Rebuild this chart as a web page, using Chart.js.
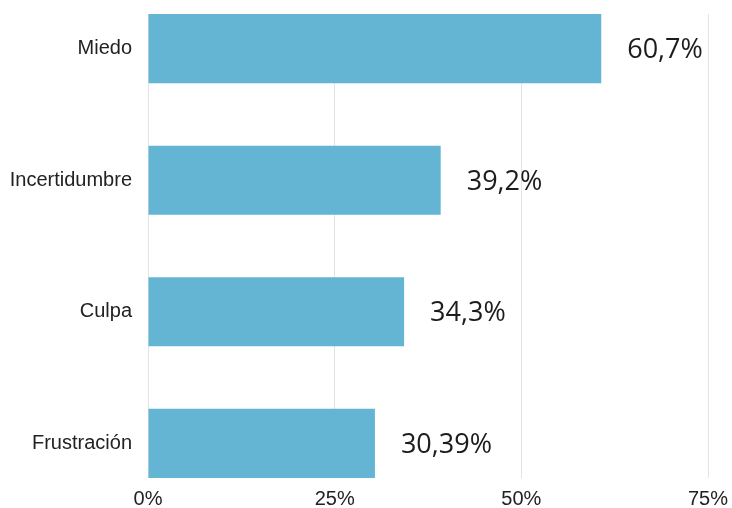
<!DOCTYPE html>
<html>
<head>
<meta charset="utf-8">
<script src="https://cdn.jsdelivr.net/npm/chart.js@4/dist/chart.umd.min.js"></script>
<style>
  html, body { margin: 0; padding: 0; background: #ffffff; }
  #wrap { width: 732px; height: 508px; }
</style>
</head>
<body>
<div id="wrap"><canvas id="c" width="732" height="508"></canvas></div>
<script>
// Emotions and their share of responses (percent)
const categories = ['Miedo', 'Incertidumbre', 'Culpa', 'Frustración'];
const values = [60.7, 39.2, 34.3, 30.39];
const xTicks = [0, 25, 50, 75];

const fmtPct = v => String(v).replace('.', ',') + '%';

// Writes each bar's value just past its end
const valueLabels = {
  id: 'valueLabels',
  afterDatasetsDraw(chart) {
    const ctx = chart.ctx;
    const meta = chart.getDatasetMeta(0);
    ctx.save();
    ctx.font = '27px "Open Sans", sans-serif';
    ctx.fillStyle = '#1c1c1c';
    ctx.textAlign = 'left';
    ctx.textBaseline = 'middle';
    meta.data.forEach((bar, i) => {
      ctx.fillText(fmtPct(values[i]), bar.x + 26, bar.y + 2);
    });
    ctx.restore();
  }
};

new Chart(document.getElementById('c'), {
  type: 'bar',
  data: {
    datasets: [{
      data: values.map((v, i) => ({ x: v, y: i })),
      backgroundColor: '#64b5d3',
      borderWidth: 0,
      categoryPercentage: 1,
      barPercentage: 0.525
    }]
  },
  options: {
    indexAxis: 'y',
    responsive: false,
    animation: false,
    layout: { padding: { top: 14, right: 24, bottom: 0, left: 0 } },
    plugins: { legend: { display: false }, tooltip: { enabled: false } },
    scales: {
      x: {
        type: 'linear',
        min: xTicks[0],
        max: xTicks[xTicks.length - 1],
        afterBuildTicks: s => { s.ticks = xTicks.map(v => ({ value: v })); },
        afterFit: s => { s.height = 30; s.paddingLeft = 0; s.paddingRight = 0; },
        border: { display: false },
        grid: { color: '#e3e3e3', lineWidth: 1, drawTicks: false },
        ticks: {
          padding: 9,
          color: '#222222',
          font: { family: '"Liberation Sans", Arial, sans-serif', size: 20 },
          callback: v => v + '%'
        }
      },
      y: {
        type: 'linear',
        reverse: true,
        offset: false,
        min: -0.263,
        max: 3.263,
        afterBuildTicks: s => { s.ticks = categories.map((c, i) => ({ value: i })); },
        afterFit: s => { s.width = 148; s.paddingTop = 0; s.paddingBottom = 0; },
        border: { display: false },
        grid: { display: false, drawTicks: false, offset: false },
        ticks: {
          padding: 16,
          color: '#222222',
          font: { family: '"Liberation Sans", Arial, sans-serif', size: 20 },
          callback: v => categories[v]
        }
      }
    }
  },
  plugins: [valueLabels]
});
</script>
</body>
</html>
